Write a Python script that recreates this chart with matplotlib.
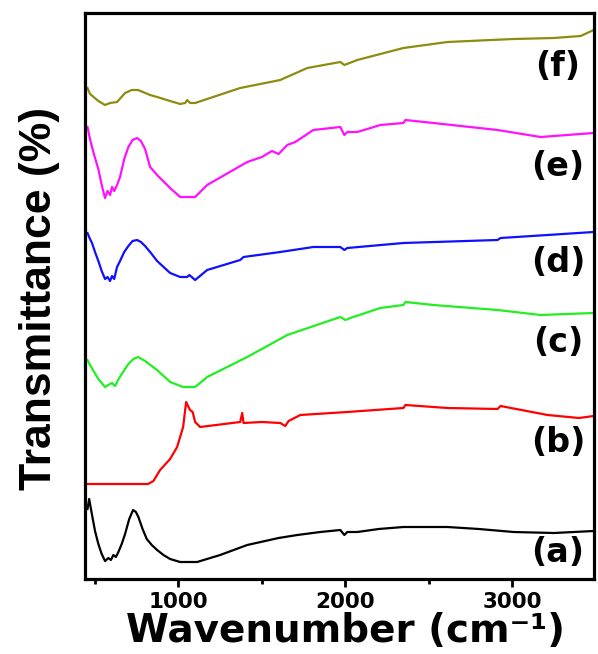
import matplotlib
matplotlib.use("Agg")
import matplotlib.pyplot as plt
from matplotlib.ticker import MultipleLocator, NullLocator

# ---- data (wavenumber cm^-1, offset transmittance in arbitrary units) ----
a_x = [455, 465, 480, 500, 520, 540, 560, 580, 595, 610, 625, 640, 660, 680, 705, 728, 745, 760, 785,
       810, 840, 872, 910, 950, 1010, 1112, 1250,
       1412, 1600, 1712, 1850, 1970, 1994, 2012, 2072, 2200, 2348, 2612, 2800, 3008, 3250, 3488]
a_y = [70, 80, 66, 48, 35, 25, 18, 21, 19, 24, 22, 27, 35, 45, 60, 69, 67, 62, 50,
       40, 34, 29, 24, 20, 17, 17, 24,
       34, 41, 44, 47, 49, 44, 47, 47, 50, 52, 52, 50, 47, 46, 48]

b_x = [445, 600, 818, 850, 890, 950, 992, 1028, 1046, 1060, 1070, 1085, 1100, 1130, 1370, 1382, 1390,
       1500, 1610, 1640, 1660, 1730, 2012, 2348, 2360, 2612, 2912, 2930, 3212, 3400, 3488]
b_y = [95, 95, 95, 98, 109, 120, 132, 152, 177, 172, 169, 167, 157, 152, 157, 166, 156,
       157, 156, 153, 158, 164, 167, 171, 174, 171, 170, 173, 164, 161, 163]

c_x = [455, 470, 495, 520, 560, 590, 602, 620, 638, 660, 700, 730, 758, 800, 872, 950, 1028, 1100,
       1172, 1412, 1652, 1970, 2000, 2030, 2210, 2348, 2360, 2528, 2912, 3170, 3488]
c_y = [219, 214, 207, 200, 192, 195, 196, 193, 199, 205, 215, 220, 222, 218, 209, 197, 192, 192,
       202, 222, 244, 262, 259, 261, 271, 274, 277, 274, 269, 264, 266]

d_x = [455, 470, 482, 500, 520, 540, 560, 575, 590, 602, 615, 632, 650, 675, 700, 725, 752, 775, 800,
       835, 872, 950, 1010, 1052, 1065, 1100, 1172, 1370, 1390, 1610, 1808, 1970, 1994, 2012, 2348,
       2912, 2930, 3212, 3488]
d_y = [346, 340, 336, 327, 318, 308, 300, 302, 298, 303, 300, 312, 318, 327, 333, 338, 339, 337, 333,
       326, 318, 306, 302, 302, 304, 299, 309, 319, 322, 327, 332, 332, 329, 331, 336,
       339, 341, 344, 347]

e_x = [455, 470, 482, 500, 520, 540, 560, 575, 590, 602, 615, 632, 650, 675, 700, 725, 752, 775, 800,
       830, 872, 950, 1010, 1100, 1172, 1412, 1500, 1560, 1600, 1652, 1700, 1808, 1970, 1994, 2012,
       2072, 2210, 2348, 2360, 2528, 2912, 3170, 3488]
e_y = [452, 440, 432, 421, 410, 394, 381, 388, 384, 392, 388, 394, 402, 420, 432, 439, 441, 438, 430,
       412, 404, 391, 382, 382, 394, 417, 422, 428, 425, 434, 437, 449, 452, 444, 447,
       447, 454, 456, 459, 456, 449, 442, 446]

f_x = [455, 470, 520, 560, 590, 632, 680, 720, 758, 830, 872, 950, 1010, 1040, 1052, 1070, 1100, 1370,
       1610, 1772, 1970, 1994, 2072, 2348, 2612, 3008, 3250, 3410, 3488]
f_y = [491, 485, 478, 474, 476, 477, 486, 489, 489, 484, 482, 478, 475, 476, 479, 476, 476, 491,
       499, 511, 517, 514, 519, 531, 537, 540, 541, 543, 549]

series = [(a_x, a_y, "black", "(a)", 27),
          (b_x, b_y, "#ff0000", "(b)", 136),
          (c_x, c_y, "#22ee22", "(c)", 237),
          (d_x, d_y, "#1010ff", "(d)", 317),
          (e_x, e_y, "#ff10ff", "(e)", 413),
          (f_x, f_y, "#8c8c10", "(f)", 512)]

xticks = [1000, 2000, 3000]

fig = plt.figure(figsize=(5.98, 6.54), dpi=100)
ax = fig.add_axes([85/598, 1 - 579/654, (594 - 85)/598, (579 - 13)/654])

for xs, ys, col, lab, ly in series:
    ax.plot(xs, ys, color=col, lw=1.6, solid_joinstyle="round")
    ax.text(3275, ly, lab, ha="center", va="center", fontsize=24, fontweight="bold",
            family="DejaVu Sans")

ax.set_xlim(440, 3490)
ax.set_ylim(0, 566)
ax.set_xticks(xticks)
ax.set_xticklabels([str(t) for t in xticks])
ax.xaxis.set_minor_locator(MultipleLocator(500))
ax.yaxis.set_major_locator(NullLocator())
ax.tick_params(axis="x", which="major", direction="out", length=6, width=2, pad=3,
               labelsize=15.5)
ax.tick_params(axis="x", which="minor", direction="out", length=3.5, width=2)
for lbl in ax.get_xticklabels():
    lbl.set_fontweight("bold")
for sp in ax.spines.values():
    sp.set_linewidth(2.3)

fig.text(0.5 * (112 + 580) / 598, 1 - 642/654, "Wavenumber (cm\u207b\u00b9)",
         ha="center", va="baseline", fontsize=28, fontweight="bold", family="DejaVu Sans")
fig.text(40/598, 1 - 298/654, "Transmittance (%)", rotation=90, ha="center", va="center",
         fontsize=32, fontweight="bold", family=["Liberation Sans", "DejaVu Sans"])

fig.savefig("out.png", dpi=100)
